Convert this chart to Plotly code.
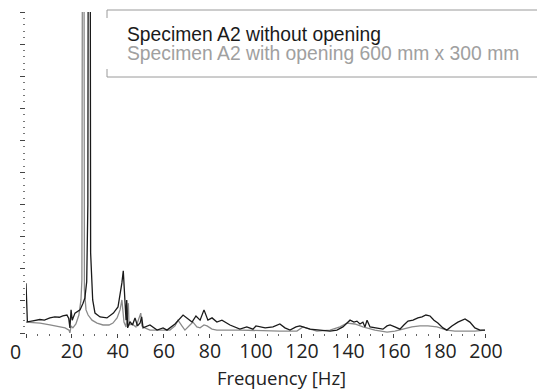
import plotly.graph_objects as go

# Frequency [Hz] and amplitude (arbitrary units, axis 0..10)
freq_without = [0.0, 0.6, 3.0, 6.0, 8.0, 10.4, 12.5, 14.5, 16.0, 17.8, 18.6, 19.1, 19.6, 20.1, 21.3, 22.4, 23.5,
                24.8, 25.6, 26.4, 26.9, 27.2, 27.5, 27.8, 28.1, 29.0, 30.0, 32.2, 35.2, 38.0, 40.0, 41.7,
                42.3, 43.0, 43.5, 43.8, 44.2, 45.2, 46.3, 47.4, 48.5, 49.6, 50.3, 50.9, 53.9, 57.0, 59.6,
                61.3, 64.8, 68.3, 70.0, 72.2, 73.9, 75.7, 77.4, 79.1, 80.9, 83.0, 85.2, 88.7, 93.0, 96.0,
                98.7, 100.0, 104.0, 107.4, 110.4, 112.6, 114.8, 117.4, 119.1, 121.3, 123.5, 127.8, 132.2,
                135.2, 137.8, 139.6, 140.9, 142.6, 143.9, 145.2, 146.5, 147.4, 148.3, 149.6, 152.6, 155.2,
                157.0, 158.3, 160.4, 162.6, 164.3, 166.1, 168.3, 170.4, 172.2, 173.9, 175.7, 177.4, 179.1,
                181.3, 183.0, 185.2, 187.8, 190.9, 193.0, 195.2, 197.4, 199.6]
amp_without = [1.55, 0.35, 0.38, 0.42, 0.40, 0.47, 0.50, 0.49, 0.53, 0.56, 0.45, 0.16, 0.72, 0.40, 0.62, 0.66, 0.72,
               0.93, 1.09, 1.6, 4.0, 20.0, 60.0, 20.0, 2.5, 1.03, 0.62, 0.50, 0.47, 0.62, 0.81, 1.56,
               1.94, 1.03, 0.40, 1.03, 0.16, 0.35, 0.25, 0.47, 0.22, 0.31, 0.50, 0.16, 0.25, 0.09, 0.16,
               0.09, 0.28, 0.56, 0.47, 0.34, 0.53, 0.40, 0.72, 0.40, 0.47, 0.34, 0.40, 0.25, 0.12, 0.19,
               0.12, 0.22, 0.16, 0.19, 0.28, 0.16, 0.09, 0.19, 0.22, 0.16, 0.12, 0.09, 0.06,
               0.09, 0.19, 0.31, 0.40, 0.34, 0.37, 0.28, 0.34, 0.19, 0.40, 0.19, 0.16, 0.12,
               0.22, 0.25, 0.19, 0.12, 0.25, 0.37, 0.40, 0.47, 0.50, 0.56, 0.53, 0.40, 0.31,
               0.16, 0.09, 0.22, 0.34, 0.44, 0.34, 0.16, 0.09, 0.09]

freq_with = [0.0, 6.1, 10.4, 14.8, 17.0, 18.7, 19.1, 19.6, 20.4, 21.7, 23.0, 23.9, 24.3, 24.7, 24.9, 25.1,
             25.4, 26.1, 27.0, 28.7, 30.9, 33.5, 36.1, 37.8, 39.6, 40.9, 41.7, 42.6, 43.5, 44.5, 44.8,
             46.1, 47.8, 49.9, 50.4, 51.7, 53.9, 58.3, 62.6, 64.8, 66.1, 67.8, 69.1, 71.3, 72.6, 74.3,
             75.7, 77.4, 78.7, 80.9, 83.0, 93.0, 103.0, 110.4, 117.8, 120.4, 123.5, 126.5, 132.2, 136.5,
             139.6, 143.0, 146.5, 151.7, 157.0, 160.4, 163.9, 167.8, 171.3, 174.8, 178.7, 183.0, 186.5,
             190.0, 195.2, 199.6]
amp_with = [0.34, 0.31, 0.25, 0.19, 0.16, 0.09, 0.0, 0.22, 0.16, 0.28, 0.56, 1.03, 1.65, 20.0, 60.0, 20.0,
            1.34, 0.72, 0.56, 0.40, 0.31, 0.25, 0.25, 0.31, 0.47, 0.72, 1.03, 0.34, 0.19, 0.93, 0.25,
            0.28, 0.19, 0.62, 0.22, 0.16, 0.09, 0.09, 0.09, 0.22, 0.40, 0.22, 0.09, 0.25, 0.34, 0.19,
            0.16, 0.25, 0.22, 0.12, 0.09, 0.09, 0.06, 0.06, 0.06, 0.19, 0.12, 0.06, 0.09, 0.19,
            0.31, 0.28, 0.19, 0.09, 0.03, 0.06, 0.12, 0.19, 0.22, 0.22, 0.19, 0.09, 0.06,
            0.06, 0.06, 0.09]

x_major = [0, 20, 40, 60, 80, 100, 120, 140, 160, 180, 200]
x_labels = ["", "20", "40", "60", "80", "100", "120", "140", "160", "180", "200"]
x_minor = [v for v in range(5, 200, 5) if v % 20 != 0]

legend_names = ["Specimen A2 without opening", "Specimen A2 with opening 600 mm x 300 mm"]

fig = go.Figure()
fig.add_trace(go.Scatter(x=freq_with, y=amp_with, mode="lines",
                         line=dict(color="#8a8a8a", width=1.3), showlegend=False))
fig.add_trace(go.Scatter(x=freq_without, y=amp_without, mode="lines",
                         line=dict(color="#1a1a1a", width=1.3), showlegend=False))

W, H = 537, 392
ml, mr, mt, mb = 26, 0, 12, 59
pw, ph = W - ml - mr, H - mt - mb

def px_x(p):
    return (p - ml) / pw

def px_y(p):
    return (H - mb - p) / ph

fig.update_layout(
    width=W, height=H,
    margin=dict(l=ml, r=mr, t=mt, b=mb),
    paper_bgcolor="white", plot_bgcolor="white",
    xaxis=dict(range=[0, 222.2], tickmode="array", tickvals=x_major, ticktext=x_labels,
               ticks="outside", ticklen=4, tickwidth=1.3, tickcolor="#444",
               showline=False, showgrid=False, zeroline=False, ticklabelstandoff=-3,
               tickfont=dict(family="Open Sans", size=19.5, color="#222"),
               minor=dict(tickmode="array", tickvals=x_minor, ticks="outside", ticklen=2,
                          tickwidth=1, tickcolor="#666", showgrid=False),
               title=dict(text="Frequency [Hz]", font=dict(family="Open Sans", size=18.5, color="#222"),
                          standoff=8)),
    yaxis=dict(range=[0, 10], tickmode="linear", tick0=0, dtick=1,
               ticks="outside", ticklen=5, tickwidth=1.3, tickcolor="#444",
               showticklabels=False, showline=False, showgrid=False, zeroline=False,
               minor=dict(tick0=0, dtick=0.2, ticks="outside", ticklen=2, tickwidth=1,
                          tickcolor="#777", showgrid=False)),
)

# "0" label (drawn left of its tick in the original)
fig.add_annotation(x=px_x(15), y=px_y(351), xref="paper", yref="paper", text="0", showarrow=False,
                   xanchor="center", yanchor="middle",
                   font=dict(family="Open Sans", size=19.5, color="#222"))

# legend frame
bx0 = px_x(107)
frame = dict(type="line", xref="paper", yref="paper", line=dict(color="#9a9a9a", width=1))
fig.add_shape(x0=bx0, x1=1.0, y0=px_y(10), y1=px_y(10), **frame)
fig.add_shape(x0=bx0, x1=1.0, y0=px_y(77), y1=px_y(77), **frame)
fig.add_shape(x0=bx0, x1=bx0, y0=px_y(10), y1=px_y(18), **frame)
fig.add_shape(x0=bx0, x1=bx0, y0=px_y(69), y1=px_y(77), **frame)

fig.add_annotation(x=px_x(125), y=px_y(34), xref="paper", yref="paper", text=legend_names[0],
                   showarrow=False, xanchor="left", yanchor="middle",
                   font=dict(family="Liberation Sans, Arial", size=19.3, color="#1a1a1a"))
fig.add_annotation(x=px_x(125), y=px_y(53), xref="paper", yref="paper", text=legend_names[1],
                   showarrow=False, xanchor="left", yanchor="middle",
                   font=dict(family="Liberation Sans, Arial", size=19.3, color="#a0a0a0"))

fig.write_html("out.html")
